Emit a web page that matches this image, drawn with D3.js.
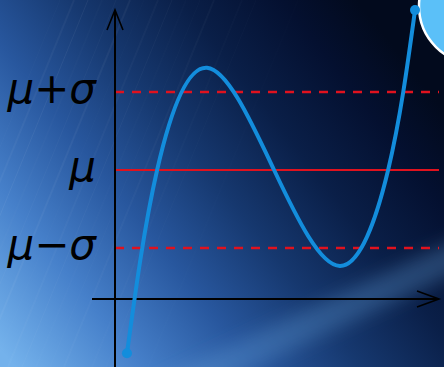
<!DOCTYPE html>
<html>
<head>
<meta charset="utf-8">
<script src="https://cdn.jsdelivr.net/npm/d3@7"></script>
<style>
  html, body { margin: 0; padding: 0; background: #0a1e44; }
  svg { display: block; }
</style>
</head>
<body>
<div id="chart"></div>
<script>
// curve: start, mu crossings, peak, trough, end
// x in arbitrary units, y in sigma units around mu
const curveX = [0.37, 1.30, 2.84, 4.91, 6.94, 8.43, 9.26];
const curveY = [-2.35, 0.0, 1.31, 0.0, -1.23, 0.0, 2.05];

// reference levels
const levelNames = ["\u03bc+\u03c3", "\u03bc", "\u03bc\u2212\u03c3"];
const levelValues = [1, 0, -1];
const levelDashed = [true, false, true];

const width = 444, height = 367;
const origin = {x: 115, y: 299};

const svg = d3.select("#chart").append("svg")
  .attr("width", width)
  .attr("height", height);

const defs = svg.append("defs");

// background gradient
const bg = defs.append("linearGradient")
  .attr("id", "bgGrad")
  .attr("x1", 0).attr("y1", 0.95)
  .attr("x2", 1).attr("y2", 0.3);
[[0, "#74b2ec"], [0.2, "#4680ca"], [0.38, "#28579e"], [0.55, "#16386f"], [0.72, "#0a1f48"], [0.88, "#041030"], [1, "#020a1d"]]
  .forEach(s => bg.append("stop").attr("offset", s[0]).attr("stop-color", s[1]));

defs.append("filter").attr("id", "blur")
  .attr("x", "-50%").attr("y", "-50%").attr("width", "200%").attr("height", "200%")
  .append("feGaussianBlur").attr("stdDeviation", 9);

svg.append("rect")
  .attr("width", width)
  .attr("height", height)
  .attr("fill", "url(#bgGrad)");

// light diagonal band lower right
svg.append("line")
  .attr("x1", 150).attr("y1", 400)
  .attr("x2", 480).attr("y2", 245)
  .attr("stroke", "#5f98d0")
  .attr("stroke-opacity", 0.35)
  .attr("stroke-width", 30)
  .attr("filter", "url(#blur)");

// faint diagonal streaks, mostly on the left
const streaks = d3.range(0, 18);
svg.append("g")
  .attr("class", "streaks")
  .selectAll("line")
  .data(streaks)
  .join("line")
  .attr("x1", d => -90 + d * 14)
  .attr("y1", height)
  .attr("x2", d => 60 + d * 14)
  .attr("y2", 0)
  .attr("stroke", "#ffffff")
  .attr("stroke-opacity", d => (0.02 + (d % 3) * 0.02) * (1 - d / 20))
  .attr("stroke-width", d => 1 + (d % 2));

const xScale = d3.scaleLinear().domain([0, 10]).range([115, 439]);
const yScale = d3.scaleLinear().domain([0, 1]).range([170, 92]);

// corner circle
svg.append("circle")
  .attr("cx", 477).attr("cy", 6).attr("r", 58)
  .attr("fill", "#5bc0f8")
  .attr("stroke", "#ffffff")
  .attr("stroke-width", 2.5);

// level lines
svg.append("g")
  .selectAll("line")
  .data(levelValues)
  .join("line")
  .attr("x1", origin.x)
  .attr("x2", 439)
  .attr("y1", d => yScale(d))
  .attr("y2", d => yScale(d))
  .attr("stroke", "#e0121e")
  .attr("stroke-width", (d, i) => levelDashed[i] ? 2.6 : 2)
  .attr("stroke-dasharray", (d, i) => levelDashed[i] ? "9,8" : null);

// level labels
svg.append("g")
  .selectAll("text")
  .data(levelValues)
  .join("text")
  .attr("x", 96)
  .attr("y", d => yScale(d) + 11)
  .attr("text-anchor", "end")
  .style("font-family", "'DejaVu Sans', sans-serif")
  .style("font-style", "italic")
  .style("font-size", "42px")
  .style("fill", "#000")
  .text((d, i) => levelNames[i]);

// axes with arrows
const axisG = svg.append("g")
  .attr("stroke", "#000")
  .attr("stroke-width", 2)
  .attr("fill", "none");
axisG.append("line")
  .attr("x1", origin.x).attr("y1", height)
  .attr("x2", origin.x).attr("y2", 10);
axisG.append("path")
  .attr("stroke-width", 1.6)
  .attr("d", `M${origin.x - 8},30 L${origin.x},10 L${origin.x + 8},30`);
axisG.append("line")
  .attr("x1", 92).attr("y1", origin.y)
  .attr("x2", 439).attr("y2", origin.y);
axisG.append("path")
  .attr("stroke-width", 1.6)
  .attr("d", `M417,${origin.y - 8} L439,${origin.y} L417,${origin.y + 8}`);

// the curve
const pts = curveX.map((x, i) => [xScale(x), yScale(curveY[i])]);
const line = d3.line().curve(d3.curveNatural);

svg.append("path")
  .attr("d", line(pts))
  .attr("fill", "none")
  .attr("stroke", "#138ddc")
  .attr("stroke-width", 4)
  .attr("stroke-linecap", "round");

svg.append("g")
  .selectAll("circle")
  .data([pts[0], pts[pts.length - 1]])
  .join("circle")
  .attr("cx", d => d[0])
  .attr("cy", d => d[1])
  .attr("r", 5)
  .attr("fill", "#138ddc");
</script>
</body>
</html>
